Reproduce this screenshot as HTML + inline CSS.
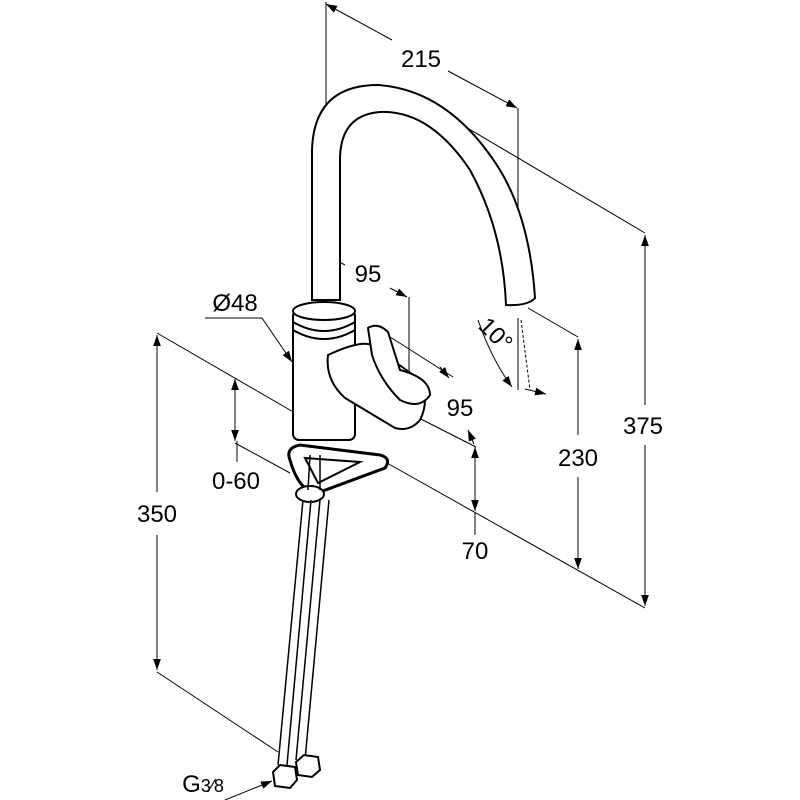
<!DOCTYPE html>
<html><head><style>html,body{margin:0;padding:0;background:#fff}svg{display:block}text{font-family:"Liberation Sans",sans-serif;fill:#000}</style></head>
<body>
<svg width="800" height="800" viewBox="0 0 800 800" xmlns="http://www.w3.org/2000/svg">
<defs>
<marker id="a" viewBox="0 0 10 10" refX="10" refY="5" markerWidth="11" markerHeight="11" orient="auto-start-reverse" markerUnits="userSpaceOnUse"><path d="M0,1.5 L10,5 L0,8.5z" fill="#000"/></marker>
</defs>
<g stroke="#000" stroke-width="1" fill="none">
<line x1="326" y1="2" x2="326" y2="165"/>
<line x1="326" y1="4" x2="392" y2="40" marker-start="url(#a)"/>
<line x1="448" y1="71" x2="517" y2="108" marker-end="url(#a)"/>
<line x1="518" y1="108" x2="518" y2="305"/>
<line x1="420" y1="100" x2="645" y2="233"/>
<line x1="645" y1="235" x2="645" y2="405" marker-start="url(#a)"/>
<line x1="645" y1="445" x2="645" y2="606" marker-end="url(#a)"/>
<line x1="528" y1="308" x2="578" y2="337"/>
<line x1="578" y1="339" x2="578" y2="435" marker-start="url(#a)"/>
<line x1="578" y1="477" x2="578" y2="569" marker-end="url(#a)"/>
<line x1="387" y1="463" x2="645" y2="608"/>
<line x1="157" y1="333" x2="302" y2="417"/>
<line x1="157" y1="335" x2="157" y2="492" marker-start="url(#a)"/>
<line x1="157" y1="535" x2="157" y2="670" marker-end="url(#a)"/>
<line x1="157" y1="672" x2="278" y2="752"/>
<line x1="235" y1="379" x2="235" y2="441" marker-start="url(#a)" marker-end="url(#a)"/>
<line x1="235" y1="443" x2="290" y2="473"/>
<line x1="237" y1="441" x2="237" y2="462"/>
<line x1="326" y1="255" x2="345" y2="265" marker-start="url(#a)"/>
<line x1="390" y1="288" x2="407" y2="297" marker-end="url(#a)"/>
<line x1="409" y1="297" x2="409" y2="420"/>
<line x1="387" y1="335" x2="453" y2="377"/>
<line x1="440" y1="367" x2="449" y2="378" marker-end="url(#a)"/>
<line x1="403" y1="410" x2="476" y2="447"/>
<line x1="468" y1="430" x2="474" y2="444" marker-start="url(#a)"/>
<line x1="475" y1="447" x2="475" y2="511" marker-start="url(#a)" marker-end="url(#a)"/>
<line x1="475" y1="513" x2="475" y2="535"/>
<line x1="205" y1="318" x2="262" y2="318"/>
<line x1="262" y1="318" x2="292" y2="362" marker-end="url(#a)"/>
<path d="M478,320 Q492,360 512,387" marker-end="url(#a)"/>
<line x1="518" y1="318" x2="518" y2="390"/>
<line x1="521" y1="320" x2="530" y2="390" stroke-dasharray="3,2"/>
<line x1="525" y1="389" x2="546" y2="394" marker-end="url(#a)"/>
<line x1="225" y1="800" x2="272" y2="781" marker-end="url(#a)"/>
</g>
<g stroke="#000" stroke-width="2" fill="#fff">
<path d="M312,300 L312,150 Q314,85 378,85 Q450,90 500,170 Q530,220 535,298 Q528,306 506,305 Q503,230 470,170 Q430,110 380,112 Q340,115 340,160 L340,300z"/>
<rect x="293" y="310" width="62" height="130" rx="6"/>
<ellipse cx="324" cy="311" rx="31" ry="9"/>
<path d="M293,322 Q324,340 355,322" fill="none"/>
<path d="M293,330 Q324,348 355,330" fill="none"/>
<path d="M328,355 Q360,340 372,345 L420,380 Q430,400 420,420 Q410,432 395,428 L345,398 Q325,380 328,355z"/>
<path d="M368,328 Q378,322 388,332 L400,370 Q430,378 430,395 Q420,410 400,400 Q380,380 372,355z"/>
<path d="M290,460 Q285,448 300,445 L380,455 Q392,458 385,468 L320,492 Q300,495 290,460z" stroke-width="3"/>
<path d="M305,458 L360,462 L318,483z" stroke-width="2"/>
<ellipse cx="310" cy="494" rx="14" ry="8"/>
</g>
<g stroke="#000" stroke-width="1.5" fill="none">
<path d="M303,500 L278,765 M311,500 L287,765"/>
<path d="M320,500 L296,760 M329,500 L305,760"/>
<path d="M310,455 L308,490 M320,455 L320,490"/>
</g>
<g stroke="#000" stroke-width="2" fill="#fff">
<path d="M273,772 L280,765 L295,767 L297,780 L290,788 L275,786z"/>
<path d="M296,762 L304,755 L318,757 L320,770 L312,777 L298,775z"/>
</g>
<g font-size="24" text-anchor="middle">
<text x="421" y="67">215</text>
<text x="643" y="434">375</text>
<text x="578" y="466">230</text>
<text x="157" y="522">350</text>
<text x="236" y="489">0-60</text>
<text x="475" y="559">70</text>
<text x="368" y="282">95</text>
<text x="460" y="416">95</text>
<text x="235" y="311">Ø48</text>
<text x="203" y="792">G<tspan font-size="18">3⁄8</tspan></text>
<text x="0" y="0" transform="translate(490,340) rotate(45)">10°</text>
</g>
</svg>
</body></html>
